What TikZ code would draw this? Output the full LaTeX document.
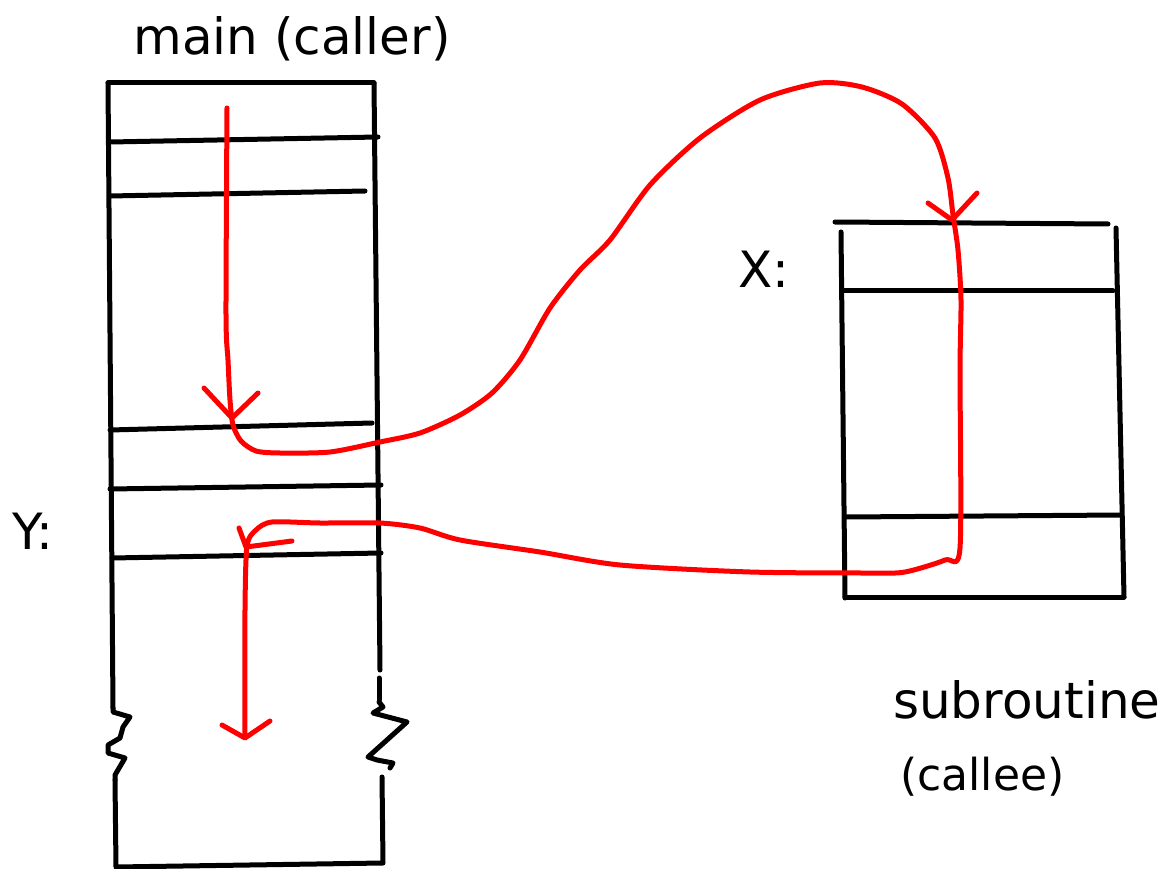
\documentclass[tikz,border=0pt]{standalone}
\usepackage{fontspec}
\setmainfont{DejaVu Sans}
\begin{document}
\begin{tikzpicture}[x=1pt,y=-1pt,
  ink/.style={line width=5pt,line cap=round,line join=round,black},
  redink/.style={line width=5pt,line cap=round,line join=round,red},
  lbl/.style={anchor=base west,inner sep=0pt,font=\fontsize{50}{60}\selectfont},
  lbls/.style={anchor=base west,inner sep=0pt,font=\fontsize{44}{52}\selectfont}]
\useasboundingbox[fill=white] (0,0) rectangle (1171,869);
% ---- labels
\node[anchor=base,inner sep=0pt,font=\fontsize{50}{60}\selectfont] (maint) at (292,55) {main (caller)};
\node[lbl] (xl) at (738,288) {X:};
\node[lbl] (yl) at (12,549) {Y:};
\node[lbl] (subt) at (893,718) {subroutine};
\node[lbls] (callee) at (900,790) {(callee)};
% ---- main frame
\draw[ink] (108,83) -- (374,83);
\draw[ink] (108,83) -- (113,708);
\draw[ink] (113,708) -- (113,712) -- (130,717) -- (123,727) -- (120,738) -- (108,745) -- (108,753) -- (125,758) -- (115,775) -- (115,780);
\draw[ink] (115,780) -- (116,867) -- (383,863) -- (382,777);
\draw[ink] (374,83) -- (380,670);
\draw[ink] (379,678) -- (379,700);
\draw[ink] (379,702) -- (383,707) -- (373,713) -- (407,722) -- (368,757) -- (377,760) -- (393,763) -- (390,768);
\draw[ink] (110,142) -- (378,137);
\draw[ink] (110,196) -- (365,191);
\draw[ink] (110,430) -- (372,423);
\draw[ink] (110,489) -- (381,485);
\draw[ink] (112,558) -- (381,553);
% ---- subroutine frame
\draw[ink] (835,222) -- (1108,224);
\draw[ink] (841,232) -- (845,598);
\draw[ink] (1116,228) -- (1124,597);
\draw[ink] (843,291) -- (1113,291);
\draw[ink] (846,517) -- (1121,515);
\draw[ink] (845,597) -- (1124,597);
% ---- call path
\coordinate (start) at (227,108);
\coordinate (ret) at (232,418);
\coordinate (xin) at (952,220);
\coordinate (yin) at (246,547);
\coordinate (endp) at (245,738);
\draw[redink] plot[smooth,tension=0.45] coordinates {(227,108) (226,315) (228,360) (230,400) (233,425) (241,441) (256,451) (280,453) (330,452) (380,442) (420,433) (460,415) (492,393) (520,360) (550,308) (580,270) (610,240) (650,185) (700,138) (760,100) (820,83) (862,87) (902,104) (935,138) (948,178) (953,215) (958,250) (961,300) (960,370) (960,548) (945,560) (905,572) (870,573) (750,572) (620,565) (540,552) (460,540) (420,528) (380,523) (320,523) (272,522) (256,530) (247,546) (245,610) (245,736)};
% ---- arrow heads
\draw[redink] (204,388) -- (ret) -- (258,393);
\draw[redink] (928,203) -- (xin) -- (977,193);
\draw[redink] (239,528) -- (yin) -- (292,541);
\draw[redink] (222,725) -- (endp) -- (270,721);
\end{tikzpicture}
\end{document}
